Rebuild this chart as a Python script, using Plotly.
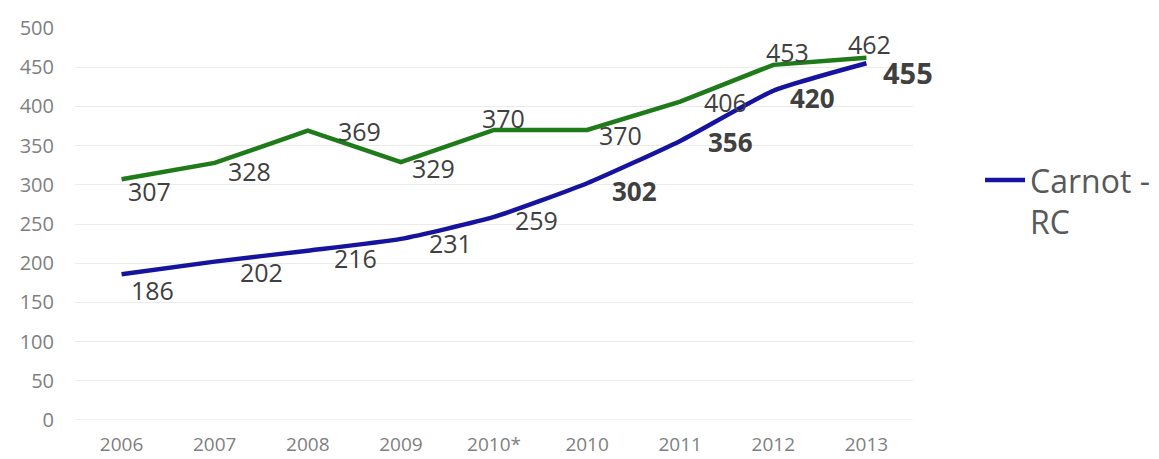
import plotly.graph_objects as go

years = ["2006", "2007", "2008", "2009", "2010*", "2010", "2011", "2012", "2013"]
green_vals = [307, 328, 369, 329, 370, 370, 406, 453, 462]
blue_vals = [186, 202, 216, 231, 259, 302, 356, 420, 455]
blue_name = "Carnot -<br>RC"

x = list(range(len(years)))

fig = go.Figure()
fig.add_trace(go.Scatter(x=x, y=green_vals, mode="lines", showlegend=False,
                         line=dict(color="#1f7a1a", width=4.5)))
fig.add_trace(go.Scatter(x=x, y=blue_vals, mode="lines", name=blue_name,
                         line=dict(color="#16149e", width=4.5, shape="spline", smoothing=0.5)))

# label offsets (px) per point
g_off = [(28, -12), (35, -8), (52, 0), (33, -6), (9, 12), (33, -5), (45, 0), (14, 13), (3, 14)]
b_off = [(31, -16), (47, -10), (48, -7), (50, -4), (42, -3), (47, -8), (50, -1), (39, -7), (42, -9)]
b_bold = [False, False, False, False, False, True, True, True, True]

for i, v in enumerate(green_vals):
    fig.add_annotation(x=x[i], y=v, text=str(v), showarrow=False,
                       xshift=g_off[i][0], yshift=g_off[i][1],
                       font=dict(size=25, color="#404040"))
for i, v in enumerate(blue_vals):
    txt = "<b>%d</b>" % v if b_bold[i] else str(v)
    fig.add_annotation(x=x[i], y=v, text=txt, showarrow=False,
                       xshift=b_off[i][0], yshift=b_off[i][1],
                       font=dict(size=29 if i == 8 else (26 if b_bold[i] else 25), color="#404040"))

# the page adds an 8px body margin, so margins are shifted to compensate
fig.update_layout(
    width=1159, height=459,
    margin=dict(l=67, r=251, t=20, b=47),
    plot_bgcolor="white", paper_bgcolor="white",
    font=dict(family="Open Sans", color="#7f7f7f"),
    xaxis=dict(tickvals=x, ticktext=years, range=[-0.5, 8.5], showgrid=False,
               showline=False, zeroline=False, tickfont=dict(size=19), ticks="",
               ticklabelstandoff=11, automargin=False),
    yaxis=dict(range=[0, 500], dtick=50, showgrid=True, gridcolor="#ebebeb",
               zeroline=False, tickfont=dict(size=20), ticks="", ticklabelstandoff=20,
               automargin=False),
    legend=dict(x=1.08, y=0.558, xanchor="left", yanchor="middle", valign="top",
                font=dict(size=32, color="#595959"), itemwidth=40),
)
fig.add_hline(y=0, line=dict(color="#e3e3e3", width=1))

fig.write_html("out.html")
